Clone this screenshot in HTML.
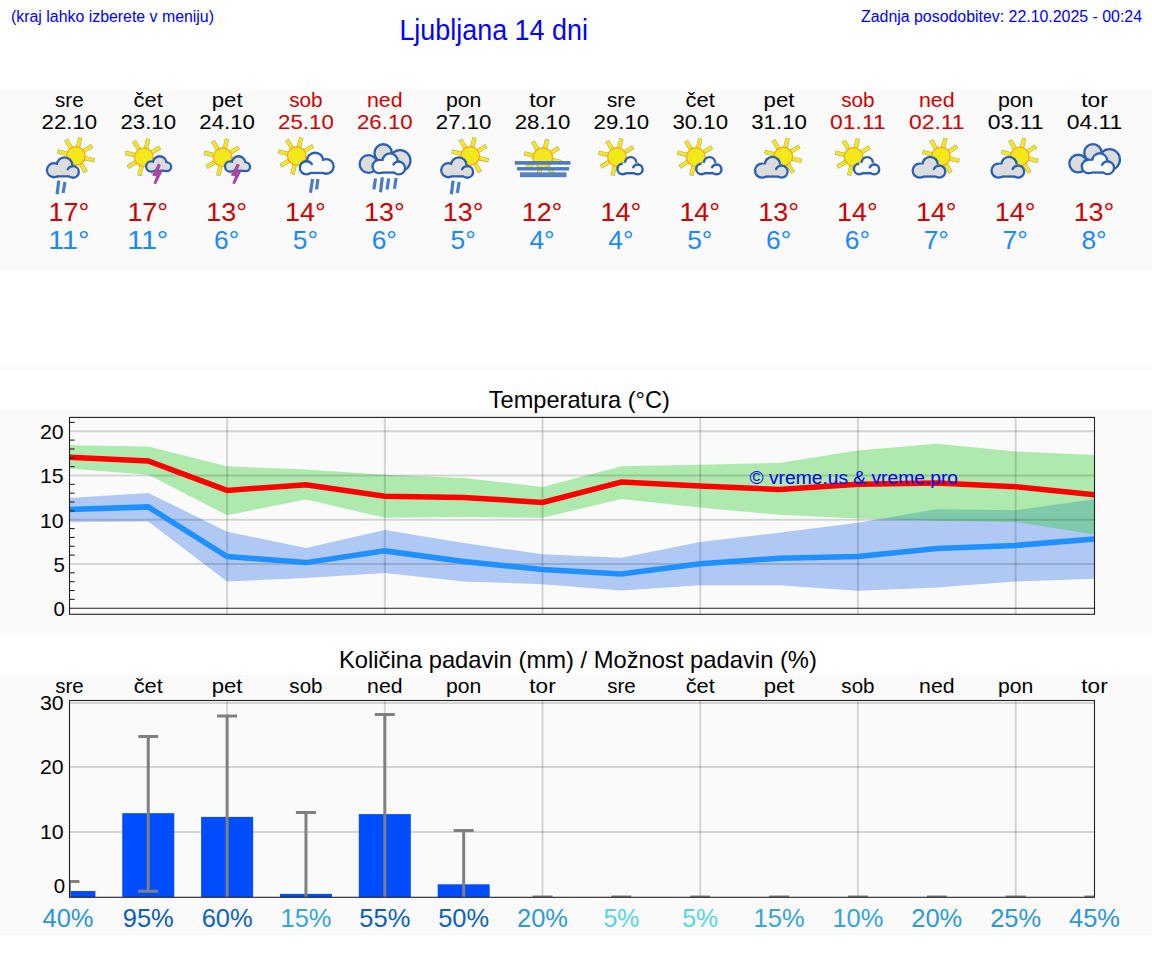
<!DOCTYPE html>
<html><head><meta charset="utf-8"><title>Ljubljana 14 dni</title>
<style>html,body{margin:0;padding:0;background:#fff;width:1152px;height:975px;overflow:hidden;position:relative}</style>
</head><body>
<svg width="1152" height="975" viewBox="0 0 1152 975" style="position:absolute;left:0;top:0;font-family:'Liberation Sans', sans-serif"><text x="11" y="22" font-size="16" fill="#0000ff" textLength="203" lengthAdjust="spacingAndGlyphs">(kraj lahko izberete v meniju)</text><text x="399.4" y="39.7" font-size="28.6" fill="#0000ff" textLength="188.5" lengthAdjust="spacingAndGlyphs">Ljubljana 14 dni</text><text x="1142" y="22.3" font-size="16" fill="#0000ff" text-anchor="end" textLength="281" lengthAdjust="spacingAndGlyphs">Zadnja posodobitev: 22.10.2025 - 00:24</text><rect x="0" y="90" width="1152" height="180" fill="#fafafa"/><text x="69.40" y="106.90" font-size="19.79" fill="#000000" text-anchor="middle" textLength="28.65" lengthAdjust="spacingAndGlyphs">sre</text><text x="69.40" y="128.90" font-size="19.79" fill="#000000" text-anchor="middle" textLength="55.65" lengthAdjust="spacingAndGlyphs">22.10</text><g transform="translate(69.40,0)"><line x1="14.28" y1="157.77" x2="24.98" y2="160.34" stroke="#a9a58a" stroke-width="4.40"/><line x1="10.68" y1="162.72" x2="16.43" y2="172.10" stroke="#a9a58a" stroke-width="4.40"/><line x1="4.63" y1="163.68" x2="2.06" y2="174.38" stroke="#a9a58a" stroke-width="4.40"/><line x1="-0.32" y1="160.08" x2="-9.70" y2="165.83" stroke="#a9a58a" stroke-width="4.40"/><line x1="-1.28" y1="154.03" x2="-11.98" y2="151.46" stroke="#a9a58a" stroke-width="4.40"/><line x1="2.32" y1="149.08" x2="-3.43" y2="139.70" stroke="#a9a58a" stroke-width="4.40"/><line x1="8.37" y1="148.12" x2="10.94" y2="137.42" stroke="#a9a58a" stroke-width="4.40"/><line x1="13.32" y1="151.72" x2="22.70" y2="145.97" stroke="#a9a58a" stroke-width="4.40"/><line x1="14.28" y1="157.77" x2="24.49" y2="160.22" stroke="#f2e81a" stroke-width="3.40"/><line x1="10.68" y1="162.72" x2="16.17" y2="171.67" stroke="#f2e81a" stroke-width="3.40"/><line x1="4.63" y1="163.68" x2="2.18" y2="173.89" stroke="#f2e81a" stroke-width="3.40"/><line x1="-0.32" y1="160.08" x2="-9.27" y2="165.57" stroke="#f2e81a" stroke-width="3.40"/><line x1="-1.28" y1="154.03" x2="-11.49" y2="151.58" stroke="#f2e81a" stroke-width="3.40"/><line x1="2.32" y1="149.08" x2="-3.17" y2="140.13" stroke="#f2e81a" stroke-width="3.40"/><line x1="8.37" y1="148.12" x2="10.82" y2="137.91" stroke="#f2e81a" stroke-width="3.40"/><line x1="13.32" y1="151.72" x2="22.27" y2="146.23" stroke="#f2e81a" stroke-width="3.40"/><circle cx="6.50" cy="155.90" r="9.30" fill="#f2e81a" stroke="#f6a21e" stroke-width="1.2"/><g fill="#2c5fb2"><circle cx="-15.40" cy="170.20" r="8.20"/><circle cx="-4.90" cy="165.00" r="8.80"/><circle cx="3.60" cy="171.90" r="7.00"/><rect x="-15.40" y="165.00" width="19.00" height="12.50"/></g><g fill="#dcdcdc"><circle cx="-15.40" cy="170.20" r="5.90"/><circle cx="-4.90" cy="165.00" r="6.50"/><circle cx="3.60" cy="171.90" r="4.70"/><rect x="-15.40" y="165.00" width="19.00" height="10.20"/></g><path d="M-1.66,169.34 A5.85,5.85 0 0 1 4.11,166.07" fill="none" stroke="#2c5fb2" stroke-width="2.30" stroke-linecap="round"/><line x1="-10.60" y1="180.60" x2="-12.30" y2="194.30" stroke="#4a7cc6" stroke-width="3.2"/><line x1="-4.50" y1="182.00" x2="-6.30" y2="193.00" stroke="#4a7cc6" stroke-width="3.2"/></g><text x="68.90" y="221.00" font-size="25.45" fill="#cc0000" text-anchor="middle" textLength="40.71" lengthAdjust="spacingAndGlyphs">17°</text><text x="68.90" y="248.90" font-size="25.45" fill="#1a88ff" text-anchor="middle" textLength="41.11" lengthAdjust="spacingAndGlyphs">11°</text><text x="148.25" y="106.90" font-size="19.79" fill="#000000" text-anchor="middle" textLength="29.27" lengthAdjust="spacingAndGlyphs">čet</text><text x="148.25" y="128.90" font-size="19.79" fill="#000000" text-anchor="middle" textLength="55.65" lengthAdjust="spacingAndGlyphs">23.10</text><g transform="translate(148.25,0)"><line x1="3.33" y1="159.07" x2="14.03" y2="161.64" stroke="#a9a58a" stroke-width="4.40"/><line x1="-0.27" y1="164.02" x2="5.48" y2="173.40" stroke="#a9a58a" stroke-width="4.40"/><line x1="-6.32" y1="164.98" x2="-8.89" y2="175.68" stroke="#a9a58a" stroke-width="4.40"/><line x1="-11.27" y1="161.38" x2="-20.65" y2="167.13" stroke="#a9a58a" stroke-width="4.40"/><line x1="-12.23" y1="155.33" x2="-22.93" y2="152.76" stroke="#a9a58a" stroke-width="4.40"/><line x1="-8.63" y1="150.38" x2="-14.38" y2="141.00" stroke="#a9a58a" stroke-width="4.40"/><line x1="-2.58" y1="149.42" x2="-0.01" y2="138.72" stroke="#a9a58a" stroke-width="4.40"/><line x1="2.37" y1="153.02" x2="11.75" y2="147.27" stroke="#a9a58a" stroke-width="4.40"/><line x1="3.33" y1="159.07" x2="13.54" y2="161.52" stroke="#f2e81a" stroke-width="3.40"/><line x1="-0.27" y1="164.02" x2="5.22" y2="172.97" stroke="#f2e81a" stroke-width="3.40"/><line x1="-6.32" y1="164.98" x2="-8.77" y2="175.19" stroke="#f2e81a" stroke-width="3.40"/><line x1="-11.27" y1="161.38" x2="-20.22" y2="166.87" stroke="#f2e81a" stroke-width="3.40"/><line x1="-12.23" y1="155.33" x2="-22.44" y2="152.88" stroke="#f2e81a" stroke-width="3.40"/><line x1="-8.63" y1="150.38" x2="-14.12" y2="141.43" stroke="#f2e81a" stroke-width="3.40"/><line x1="-2.58" y1="149.42" x2="-0.13" y2="139.21" stroke="#f2e81a" stroke-width="3.40"/><line x1="2.37" y1="153.02" x2="11.32" y2="147.53" stroke="#f2e81a" stroke-width="3.40"/><circle cx="-4.45" cy="157.20" r="9.30" fill="#f2e81a" stroke="#f6a21e" stroke-width="1.2"/><g fill="#2c5fb2"><circle cx="2.95" cy="166.50" r="6.20"/><circle cx="11.45" cy="163.00" r="7.90"/><circle cx="18.55" cy="166.80" r="5.50"/><rect x="2.95" y="163.00" width="15.60" height="8.90"/></g><g fill="#dcdcdc"><circle cx="2.95" cy="166.50" r="3.90"/><circle cx="11.45" cy="163.00" r="5.60"/><circle cx="18.55" cy="166.80" r="3.20"/><rect x="2.95" y="163.00" width="15.60" height="6.60"/></g><polygon points="9.75,163.4 12.65,164.9 10.35,170.4 14.45,170.8 7.85,184.0 5.15,183.4 7.95,176.2 3.85,175.5" fill="#a846a8"/></g><text x="147.75" y="221.00" font-size="25.45" fill="#cc0000" text-anchor="middle" textLength="40.71" lengthAdjust="spacingAndGlyphs">17°</text><text x="147.75" y="248.90" font-size="25.45" fill="#1a88ff" text-anchor="middle" textLength="41.11" lengthAdjust="spacingAndGlyphs">11°</text><text x="227.11" y="106.90" font-size="19.79" fill="#000000" text-anchor="middle" textLength="30.92" lengthAdjust="spacingAndGlyphs">pet</text><text x="227.11" y="128.90" font-size="19.79" fill="#000000" text-anchor="middle" textLength="55.65" lengthAdjust="spacingAndGlyphs">24.10</text><g transform="translate(227.11,0)"><line x1="3.33" y1="159.07" x2="14.03" y2="161.64" stroke="#a9a58a" stroke-width="4.40"/><line x1="-0.27" y1="164.02" x2="5.48" y2="173.40" stroke="#a9a58a" stroke-width="4.40"/><line x1="-6.32" y1="164.98" x2="-8.89" y2="175.68" stroke="#a9a58a" stroke-width="4.40"/><line x1="-11.27" y1="161.38" x2="-20.65" y2="167.13" stroke="#a9a58a" stroke-width="4.40"/><line x1="-12.23" y1="155.33" x2="-22.93" y2="152.76" stroke="#a9a58a" stroke-width="4.40"/><line x1="-8.63" y1="150.38" x2="-14.38" y2="141.00" stroke="#a9a58a" stroke-width="4.40"/><line x1="-2.58" y1="149.42" x2="-0.01" y2="138.72" stroke="#a9a58a" stroke-width="4.40"/><line x1="2.37" y1="153.02" x2="11.75" y2="147.27" stroke="#a9a58a" stroke-width="4.40"/><line x1="3.33" y1="159.07" x2="13.54" y2="161.52" stroke="#f2e81a" stroke-width="3.40"/><line x1="-0.27" y1="164.02" x2="5.22" y2="172.97" stroke="#f2e81a" stroke-width="3.40"/><line x1="-6.32" y1="164.98" x2="-8.77" y2="175.19" stroke="#f2e81a" stroke-width="3.40"/><line x1="-11.27" y1="161.38" x2="-20.22" y2="166.87" stroke="#f2e81a" stroke-width="3.40"/><line x1="-12.23" y1="155.33" x2="-22.44" y2="152.88" stroke="#f2e81a" stroke-width="3.40"/><line x1="-8.63" y1="150.38" x2="-14.12" y2="141.43" stroke="#f2e81a" stroke-width="3.40"/><line x1="-2.58" y1="149.42" x2="-0.13" y2="139.21" stroke="#f2e81a" stroke-width="3.40"/><line x1="2.37" y1="153.02" x2="11.32" y2="147.53" stroke="#f2e81a" stroke-width="3.40"/><circle cx="-4.45" cy="157.20" r="9.30" fill="#f2e81a" stroke="#f6a21e" stroke-width="1.2"/><g fill="#2c5fb2"><circle cx="2.95" cy="166.50" r="6.20"/><circle cx="11.45" cy="163.00" r="7.90"/><circle cx="18.55" cy="166.80" r="5.50"/><rect x="2.95" y="163.00" width="15.60" height="8.90"/></g><g fill="#dcdcdc"><circle cx="2.95" cy="166.50" r="3.90"/><circle cx="11.45" cy="163.00" r="5.60"/><circle cx="18.55" cy="166.80" r="3.20"/><rect x="2.95" y="163.00" width="15.60" height="6.60"/></g><polygon points="9.75,163.4 12.65,164.9 10.35,170.4 14.45,170.8 7.85,184.0 5.15,183.4 7.95,176.2 3.85,175.5" fill="#a846a8"/></g><text x="226.61" y="221.00" font-size="25.45" fill="#cc0000" text-anchor="middle" textLength="40.71" lengthAdjust="spacingAndGlyphs">13°</text><text x="226.61" y="248.90" font-size="25.45" fill="#1a88ff" text-anchor="middle" textLength="25.21" lengthAdjust="spacingAndGlyphs">6°</text><text x="305.96" y="106.90" font-size="19.79" fill="#cc0000" text-anchor="middle" textLength="33.36" lengthAdjust="spacingAndGlyphs">sob</text><text x="305.96" y="128.90" font-size="19.79" fill="#cc0000" text-anchor="middle" textLength="55.65" lengthAdjust="spacingAndGlyphs">25.10</text><g transform="translate(305.96,0)"><line x1="-1.37" y1="157.77" x2="9.33" y2="160.34" stroke="#a9a58a" stroke-width="4.40"/><line x1="-4.97" y1="162.72" x2="0.78" y2="172.10" stroke="#a9a58a" stroke-width="4.40"/><line x1="-11.02" y1="163.68" x2="-13.59" y2="174.38" stroke="#a9a58a" stroke-width="4.40"/><line x1="-15.97" y1="160.08" x2="-25.35" y2="165.83" stroke="#a9a58a" stroke-width="4.40"/><line x1="-16.93" y1="154.03" x2="-27.63" y2="151.46" stroke="#a9a58a" stroke-width="4.40"/><line x1="-13.33" y1="149.08" x2="-19.08" y2="139.70" stroke="#a9a58a" stroke-width="4.40"/><line x1="-7.28" y1="148.12" x2="-4.71" y2="137.42" stroke="#a9a58a" stroke-width="4.40"/><line x1="-2.33" y1="151.72" x2="7.05" y2="145.97" stroke="#a9a58a" stroke-width="4.40"/><line x1="-1.37" y1="157.77" x2="8.84" y2="160.22" stroke="#f2e81a" stroke-width="3.40"/><line x1="-4.97" y1="162.72" x2="0.52" y2="171.67" stroke="#f2e81a" stroke-width="3.40"/><line x1="-11.02" y1="163.68" x2="-13.47" y2="173.89" stroke="#f2e81a" stroke-width="3.40"/><line x1="-15.97" y1="160.08" x2="-24.92" y2="165.57" stroke="#f2e81a" stroke-width="3.40"/><line x1="-16.93" y1="154.03" x2="-27.14" y2="151.58" stroke="#f2e81a" stroke-width="3.40"/><line x1="-13.33" y1="149.08" x2="-18.82" y2="140.13" stroke="#f2e81a" stroke-width="3.40"/><line x1="-7.28" y1="148.12" x2="-4.83" y2="137.91" stroke="#f2e81a" stroke-width="3.40"/><line x1="-2.33" y1="151.72" x2="6.62" y2="146.23" stroke="#f2e81a" stroke-width="3.40"/><circle cx="-9.15" cy="155.90" r="9.30" fill="#f2e81a" stroke="#f6a21e" stroke-width="1.2"/><g fill="#2c5fb2"><circle cx="0.45" cy="167.80" r="7.70"/><circle cx="9.15" cy="161.00" r="9.40"/><circle cx="20.30" cy="166.40" r="8.50"/><rect x="0.45" y="161.00" width="19.85" height="13.10"/></g><g fill="#fafafa"><circle cx="0.45" cy="167.80" r="5.40"/><circle cx="9.15" cy="161.00" r="7.10"/><circle cx="20.30" cy="166.40" r="6.20"/><rect x="0.45" y="161.00" width="19.85" height="10.80"/></g><path d="M-0.12,161.27 A6.55,6.55 0 0 1 5.88,164.14" fill="none" stroke="#2c5fb2" stroke-width="2.30" stroke-linecap="round"/><line x1="6.60" y1="179.00" x2="4.50" y2="192.80" stroke="#4a7cc6" stroke-width="3.2"/><line x1="12.00" y1="179.00" x2="10.60" y2="189.40" stroke="#4a7cc6" stroke-width="3.2"/></g><text x="305.46" y="221.00" font-size="25.45" fill="#cc0000" text-anchor="middle" textLength="40.71" lengthAdjust="spacingAndGlyphs">14°</text><text x="305.46" y="248.90" font-size="25.45" fill="#1a88ff" text-anchor="middle" textLength="25.21" lengthAdjust="spacingAndGlyphs">5°</text><text x="384.82" y="106.90" font-size="19.79" fill="#cc0000" text-anchor="middle" textLength="35.62" lengthAdjust="spacingAndGlyphs">ned</text><text x="384.82" y="128.90" font-size="19.79" fill="#cc0000" text-anchor="middle" textLength="55.65" lengthAdjust="spacingAndGlyphs">26.10</text><g transform="translate(384.82,0)"><g fill="#2c5fb2"><circle cx="-16.30" cy="164.00" r="10.00"/><circle cx="-1.60" cy="153.00" r="9.90"/><circle cx="15.20" cy="160.60" r="11.60"/></g><g fill="#dcdcdc"><circle cx="-16.30" cy="164.00" r="7.70"/><circle cx="-1.60" cy="153.00" r="7.60"/><circle cx="15.20" cy="160.60" r="9.30"/></g><g fill="#2c5fb2"><circle cx="-5.60" cy="166.50" r="7.80"/><circle cx="5.20" cy="161.00" r="8.70"/><circle cx="13.90" cy="168.00" r="7.50"/><rect x="-5.60" y="161.00" width="19.50" height="12.70"/></g><g fill="#fafafa"><circle cx="-5.60" cy="166.50" r="5.50"/><circle cx="5.20" cy="161.00" r="6.40"/><circle cx="13.90" cy="168.00" r="5.20"/><rect x="-5.60" y="161.00" width="19.50" height="10.40"/></g><path d="M8.64,164.45 A6.35,6.35 0 0 1 14.45,161.67" fill="none" stroke="#2c5fb2" stroke-width="2.30" stroke-linecap="round"/><line x1="-9.30" y1="178.60" x2="-11.00" y2="189.40" stroke="#4a7cc6" stroke-width="3.2"/><line x1="-2.50" y1="177.40" x2="-4.30" y2="192.30" stroke="#4a7cc6" stroke-width="3.2"/><line x1="3.90" y1="178.60" x2="2.20" y2="189.40" stroke="#4a7cc6" stroke-width="3.2"/><line x1="11.30" y1="178.00" x2="9.60" y2="188.80" stroke="#4a7cc6" stroke-width="3.2"/></g><text x="384.32" y="221.00" font-size="25.45" fill="#cc0000" text-anchor="middle" textLength="40.71" lengthAdjust="spacingAndGlyphs">13°</text><text x="384.32" y="248.90" font-size="25.45" fill="#1a88ff" text-anchor="middle" textLength="25.21" lengthAdjust="spacingAndGlyphs">6°</text><text x="463.67" y="106.90" font-size="19.79" fill="#000000" text-anchor="middle" textLength="35.55" lengthAdjust="spacingAndGlyphs">pon</text><text x="463.67" y="128.90" font-size="19.79" fill="#000000" text-anchor="middle" textLength="55.65" lengthAdjust="spacingAndGlyphs">27.10</text><g transform="translate(463.67,0)"><line x1="14.28" y1="157.77" x2="24.98" y2="160.34" stroke="#a9a58a" stroke-width="4.40"/><line x1="10.68" y1="162.72" x2="16.43" y2="172.10" stroke="#a9a58a" stroke-width="4.40"/><line x1="4.63" y1="163.68" x2="2.06" y2="174.38" stroke="#a9a58a" stroke-width="4.40"/><line x1="-0.32" y1="160.08" x2="-9.70" y2="165.83" stroke="#a9a58a" stroke-width="4.40"/><line x1="-1.28" y1="154.03" x2="-11.98" y2="151.46" stroke="#a9a58a" stroke-width="4.40"/><line x1="2.32" y1="149.08" x2="-3.43" y2="139.70" stroke="#a9a58a" stroke-width="4.40"/><line x1="8.37" y1="148.12" x2="10.94" y2="137.42" stroke="#a9a58a" stroke-width="4.40"/><line x1="13.32" y1="151.72" x2="22.70" y2="145.97" stroke="#a9a58a" stroke-width="4.40"/><line x1="14.28" y1="157.77" x2="24.49" y2="160.22" stroke="#f2e81a" stroke-width="3.40"/><line x1="10.68" y1="162.72" x2="16.17" y2="171.67" stroke="#f2e81a" stroke-width="3.40"/><line x1="4.63" y1="163.68" x2="2.18" y2="173.89" stroke="#f2e81a" stroke-width="3.40"/><line x1="-0.32" y1="160.08" x2="-9.27" y2="165.57" stroke="#f2e81a" stroke-width="3.40"/><line x1="-1.28" y1="154.03" x2="-11.49" y2="151.58" stroke="#f2e81a" stroke-width="3.40"/><line x1="2.32" y1="149.08" x2="-3.17" y2="140.13" stroke="#f2e81a" stroke-width="3.40"/><line x1="8.37" y1="148.12" x2="10.82" y2="137.91" stroke="#f2e81a" stroke-width="3.40"/><line x1="13.32" y1="151.72" x2="22.27" y2="146.23" stroke="#f2e81a" stroke-width="3.40"/><circle cx="6.50" cy="155.90" r="9.30" fill="#f2e81a" stroke="#f6a21e" stroke-width="1.2"/><g fill="#2c5fb2"><circle cx="-15.40" cy="170.20" r="8.20"/><circle cx="-4.90" cy="165.00" r="8.80"/><circle cx="3.60" cy="171.90" r="7.00"/><rect x="-15.40" y="165.00" width="19.00" height="12.50"/></g><g fill="#dcdcdc"><circle cx="-15.40" cy="170.20" r="5.90"/><circle cx="-4.90" cy="165.00" r="6.50"/><circle cx="3.60" cy="171.90" r="4.70"/><rect x="-15.40" y="165.00" width="19.00" height="10.20"/></g><path d="M-1.66,169.34 A5.85,5.85 0 0 1 4.11,166.07" fill="none" stroke="#2c5fb2" stroke-width="2.30" stroke-linecap="round"/><line x1="-10.60" y1="180.60" x2="-12.30" y2="194.30" stroke="#4a7cc6" stroke-width="3.2"/><line x1="-4.50" y1="182.00" x2="-6.30" y2="193.00" stroke="#4a7cc6" stroke-width="3.2"/></g><text x="463.17" y="221.00" font-size="25.45" fill="#cc0000" text-anchor="middle" textLength="40.71" lengthAdjust="spacingAndGlyphs">13°</text><text x="463.17" y="248.90" font-size="25.45" fill="#1a88ff" text-anchor="middle" textLength="25.21" lengthAdjust="spacingAndGlyphs">5°</text><text x="542.52" y="106.90" font-size="19.79" fill="#000000" text-anchor="middle" textLength="26.50" lengthAdjust="spacingAndGlyphs">tor</text><text x="542.52" y="128.90" font-size="19.79" fill="#000000" text-anchor="middle" textLength="55.65" lengthAdjust="spacingAndGlyphs">28.10</text><g transform="translate(542.52,0)"><line x1="7.98" y1="159.67" x2="18.68" y2="162.24" stroke="#a9a58a" stroke-width="4.40"/><line x1="4.38" y1="164.62" x2="10.13" y2="174.00" stroke="#a9a58a" stroke-width="4.40"/><line x1="-1.67" y1="165.58" x2="-4.24" y2="176.28" stroke="#a9a58a" stroke-width="4.40"/><line x1="-6.62" y1="161.98" x2="-16.00" y2="167.73" stroke="#a9a58a" stroke-width="4.40"/><line x1="-7.58" y1="155.93" x2="-18.28" y2="153.36" stroke="#a9a58a" stroke-width="4.40"/><line x1="-3.98" y1="150.98" x2="-9.73" y2="141.60" stroke="#a9a58a" stroke-width="4.40"/><line x1="2.07" y1="150.02" x2="4.64" y2="139.32" stroke="#a9a58a" stroke-width="4.40"/><line x1="7.02" y1="153.62" x2="16.40" y2="147.87" stroke="#a9a58a" stroke-width="4.40"/><line x1="7.98" y1="159.67" x2="18.19" y2="162.12" stroke="#f2e81a" stroke-width="3.40"/><line x1="4.38" y1="164.62" x2="9.87" y2="173.57" stroke="#f2e81a" stroke-width="3.40"/><line x1="-1.67" y1="165.58" x2="-4.12" y2="175.79" stroke="#f2e81a" stroke-width="3.40"/><line x1="-6.62" y1="161.98" x2="-15.57" y2="167.47" stroke="#f2e81a" stroke-width="3.40"/><line x1="-7.58" y1="155.93" x2="-17.79" y2="153.48" stroke="#f2e81a" stroke-width="3.40"/><line x1="-3.98" y1="150.98" x2="-9.47" y2="142.03" stroke="#f2e81a" stroke-width="3.40"/><line x1="2.07" y1="150.02" x2="4.52" y2="139.81" stroke="#f2e81a" stroke-width="3.40"/><line x1="7.02" y1="153.62" x2="15.97" y2="148.13" stroke="#f2e81a" stroke-width="3.40"/><circle cx="0.20" cy="157.80" r="9.90" fill="#f2e81a" stroke="#f6a21e" stroke-width="1.2"/><rect x="-27.8" y="161.1" width="55.7" height="3.6" fill="#4a7bc4"/><rect x="-25.5" y="167.1" width="52.1" height="3.4" fill="#4a7bc4"/><rect x="-22.6" y="172.3" width="46.6" height="4.9" fill="#5682c2"/></g><text x="542.02" y="221.00" font-size="25.45" fill="#cc0000" text-anchor="middle" textLength="40.71" lengthAdjust="spacingAndGlyphs">12°</text><text x="542.02" y="248.90" font-size="25.45" fill="#1a88ff" text-anchor="middle" textLength="25.21" lengthAdjust="spacingAndGlyphs">4°</text><text x="621.38" y="106.90" font-size="19.79" fill="#000000" text-anchor="middle" textLength="28.65" lengthAdjust="spacingAndGlyphs">sre</text><text x="621.38" y="128.90" font-size="19.79" fill="#000000" text-anchor="middle" textLength="55.65" lengthAdjust="spacingAndGlyphs">29.10</text><g transform="translate(621.38,0)"><line x1="3.38" y1="158.87" x2="14.08" y2="161.44" stroke="#a9a58a" stroke-width="4.40"/><line x1="-0.22" y1="163.82" x2="5.53" y2="173.20" stroke="#a9a58a" stroke-width="4.40"/><line x1="-6.27" y1="164.78" x2="-8.84" y2="175.48" stroke="#a9a58a" stroke-width="4.40"/><line x1="-11.22" y1="161.18" x2="-20.60" y2="166.93" stroke="#a9a58a" stroke-width="4.40"/><line x1="-12.18" y1="155.13" x2="-22.88" y2="152.56" stroke="#a9a58a" stroke-width="4.40"/><line x1="-8.58" y1="150.18" x2="-14.33" y2="140.80" stroke="#a9a58a" stroke-width="4.40"/><line x1="-2.53" y1="149.22" x2="0.04" y2="138.52" stroke="#a9a58a" stroke-width="4.40"/><line x1="2.42" y1="152.82" x2="11.80" y2="147.07" stroke="#a9a58a" stroke-width="4.40"/><line x1="3.38" y1="158.87" x2="13.59" y2="161.32" stroke="#f2e81a" stroke-width="3.40"/><line x1="-0.22" y1="163.82" x2="5.27" y2="172.77" stroke="#f2e81a" stroke-width="3.40"/><line x1="-6.27" y1="164.78" x2="-8.72" y2="174.99" stroke="#f2e81a" stroke-width="3.40"/><line x1="-11.22" y1="161.18" x2="-20.17" y2="166.67" stroke="#f2e81a" stroke-width="3.40"/><line x1="-12.18" y1="155.13" x2="-22.39" y2="152.68" stroke="#f2e81a" stroke-width="3.40"/><line x1="-8.58" y1="150.18" x2="-14.07" y2="141.23" stroke="#f2e81a" stroke-width="3.40"/><line x1="-2.53" y1="149.22" x2="-0.08" y2="139.01" stroke="#f2e81a" stroke-width="3.40"/><line x1="2.42" y1="152.82" x2="11.37" y2="147.33" stroke="#f2e81a" stroke-width="3.40"/><circle cx="-4.40" cy="157.00" r="9.30" fill="#f2e81a" stroke="#f6a21e" stroke-width="1.2"/><g fill="#2c5fb2"><circle cx="1.30" cy="169.00" r="6.50"/><circle cx="9.30" cy="162.80" r="6.90"/><circle cx="16.30" cy="169.40" r="6.10"/><rect x="1.30" y="162.80" width="15.00" height="11.60"/></g><g fill="#fafafa"><circle cx="1.30" cy="169.00" r="4.10"/><circle cx="9.30" cy="162.80" r="4.50"/><circle cx="16.30" cy="169.40" r="3.70"/><rect x="1.30" y="162.80" width="15.00" height="9.20"/></g><path d="M11.86,167.33 A4.90,4.90 0 0 1 16.73,164.52" fill="none" stroke="#2c5fb2" stroke-width="2.40" stroke-linecap="round"/></g><text x="620.88" y="221.00" font-size="25.45" fill="#cc0000" text-anchor="middle" textLength="40.71" lengthAdjust="spacingAndGlyphs">14°</text><text x="620.88" y="248.90" font-size="25.45" fill="#1a88ff" text-anchor="middle" textLength="25.21" lengthAdjust="spacingAndGlyphs">4°</text><text x="700.23" y="106.90" font-size="19.79" fill="#000000" text-anchor="middle" textLength="29.27" lengthAdjust="spacingAndGlyphs">čet</text><text x="700.23" y="128.90" font-size="19.79" fill="#000000" text-anchor="middle" textLength="55.65" lengthAdjust="spacingAndGlyphs">30.10</text><g transform="translate(700.23,0)"><line x1="3.38" y1="158.87" x2="14.08" y2="161.44" stroke="#a9a58a" stroke-width="4.40"/><line x1="-0.22" y1="163.82" x2="5.53" y2="173.20" stroke="#a9a58a" stroke-width="4.40"/><line x1="-6.27" y1="164.78" x2="-8.84" y2="175.48" stroke="#a9a58a" stroke-width="4.40"/><line x1="-11.22" y1="161.18" x2="-20.60" y2="166.93" stroke="#a9a58a" stroke-width="4.40"/><line x1="-12.18" y1="155.13" x2="-22.88" y2="152.56" stroke="#a9a58a" stroke-width="4.40"/><line x1="-8.58" y1="150.18" x2="-14.33" y2="140.80" stroke="#a9a58a" stroke-width="4.40"/><line x1="-2.53" y1="149.22" x2="0.04" y2="138.52" stroke="#a9a58a" stroke-width="4.40"/><line x1="2.42" y1="152.82" x2="11.80" y2="147.07" stroke="#a9a58a" stroke-width="4.40"/><line x1="3.38" y1="158.87" x2="13.59" y2="161.32" stroke="#f2e81a" stroke-width="3.40"/><line x1="-0.22" y1="163.82" x2="5.27" y2="172.77" stroke="#f2e81a" stroke-width="3.40"/><line x1="-6.27" y1="164.78" x2="-8.72" y2="174.99" stroke="#f2e81a" stroke-width="3.40"/><line x1="-11.22" y1="161.18" x2="-20.17" y2="166.67" stroke="#f2e81a" stroke-width="3.40"/><line x1="-12.18" y1="155.13" x2="-22.39" y2="152.68" stroke="#f2e81a" stroke-width="3.40"/><line x1="-8.58" y1="150.18" x2="-14.07" y2="141.23" stroke="#f2e81a" stroke-width="3.40"/><line x1="-2.53" y1="149.22" x2="-0.08" y2="139.01" stroke="#f2e81a" stroke-width="3.40"/><line x1="2.42" y1="152.82" x2="11.37" y2="147.33" stroke="#f2e81a" stroke-width="3.40"/><circle cx="-4.40" cy="157.00" r="9.30" fill="#f2e81a" stroke="#f6a21e" stroke-width="1.2"/><g fill="#2c5fb2"><circle cx="1.30" cy="169.00" r="6.50"/><circle cx="9.30" cy="162.80" r="6.90"/><circle cx="16.30" cy="169.40" r="6.10"/><rect x="1.30" y="162.80" width="15.00" height="11.60"/></g><g fill="#fafafa"><circle cx="1.30" cy="169.00" r="4.10"/><circle cx="9.30" cy="162.80" r="4.50"/><circle cx="16.30" cy="169.40" r="3.70"/><rect x="1.30" y="162.80" width="15.00" height="9.20"/></g><path d="M11.86,167.33 A4.90,4.90 0 0 1 16.73,164.52" fill="none" stroke="#2c5fb2" stroke-width="2.40" stroke-linecap="round"/></g><text x="699.73" y="221.00" font-size="25.45" fill="#cc0000" text-anchor="middle" textLength="40.71" lengthAdjust="spacingAndGlyphs">14°</text><text x="699.73" y="248.90" font-size="25.45" fill="#1a88ff" text-anchor="middle" textLength="25.21" lengthAdjust="spacingAndGlyphs">5°</text><text x="779.08" y="106.90" font-size="19.79" fill="#000000" text-anchor="middle" textLength="30.92" lengthAdjust="spacingAndGlyphs">pet</text><text x="779.08" y="128.90" font-size="19.79" fill="#000000" text-anchor="middle" textLength="55.65" lengthAdjust="spacingAndGlyphs">31.10</text><g transform="translate(779.08,0)"><line x1="11.93" y1="158.27" x2="22.63" y2="160.84" stroke="#a9a58a" stroke-width="4.40"/><line x1="8.33" y1="163.22" x2="14.08" y2="172.60" stroke="#a9a58a" stroke-width="4.40"/><line x1="2.28" y1="164.18" x2="-0.29" y2="174.88" stroke="#a9a58a" stroke-width="4.40"/><line x1="-2.67" y1="160.58" x2="-12.05" y2="166.33" stroke="#a9a58a" stroke-width="4.40"/><line x1="-3.63" y1="154.53" x2="-14.33" y2="151.96" stroke="#a9a58a" stroke-width="4.40"/><line x1="-0.03" y1="149.58" x2="-5.78" y2="140.20" stroke="#a9a58a" stroke-width="4.40"/><line x1="6.02" y1="148.62" x2="8.59" y2="137.92" stroke="#a9a58a" stroke-width="4.40"/><line x1="10.97" y1="152.22" x2="20.35" y2="146.47" stroke="#a9a58a" stroke-width="4.40"/><line x1="11.93" y1="158.27" x2="22.14" y2="160.72" stroke="#f2e81a" stroke-width="3.40"/><line x1="8.33" y1="163.22" x2="13.82" y2="172.17" stroke="#f2e81a" stroke-width="3.40"/><line x1="2.28" y1="164.18" x2="-0.17" y2="174.39" stroke="#f2e81a" stroke-width="3.40"/><line x1="-2.67" y1="160.58" x2="-11.62" y2="166.07" stroke="#f2e81a" stroke-width="3.40"/><line x1="-3.63" y1="154.53" x2="-13.84" y2="152.08" stroke="#f2e81a" stroke-width="3.40"/><line x1="-0.03" y1="149.58" x2="-5.52" y2="140.63" stroke="#f2e81a" stroke-width="3.40"/><line x1="6.02" y1="148.62" x2="8.47" y2="138.41" stroke="#f2e81a" stroke-width="3.40"/><line x1="10.97" y1="152.22" x2="19.92" y2="146.73" stroke="#f2e81a" stroke-width="3.40"/><circle cx="4.15" cy="156.40" r="9.30" fill="#f2e81a" stroke="#f6a21e" stroke-width="1.2"/><g fill="#2c5fb2"><circle cx="-17.05" cy="170.60" r="8.20"/><circle cx="-6.65" cy="164.50" r="8.80"/><circle cx="2.45" cy="171.60" r="7.20"/><rect x="-17.05" y="164.50" width="19.50" height="13.20"/></g><g fill="#dcdcdc"><circle cx="-17.05" cy="170.60" r="5.90"/><circle cx="-6.65" cy="164.50" r="6.50"/><circle cx="2.45" cy="171.60" r="4.90"/><rect x="-17.05" y="164.50" width="19.50" height="10.90"/></g><path d="M-2.99,168.95 A6.05,6.05 0 0 1 2.98,165.57" fill="none" stroke="#2c5fb2" stroke-width="2.30" stroke-linecap="round"/></g><text x="778.58" y="221.00" font-size="25.45" fill="#cc0000" text-anchor="middle" textLength="40.71" lengthAdjust="spacingAndGlyphs">13°</text><text x="778.58" y="248.90" font-size="25.45" fill="#1a88ff" text-anchor="middle" textLength="25.21" lengthAdjust="spacingAndGlyphs">6°</text><text x="857.94" y="106.90" font-size="19.79" fill="#cc0000" text-anchor="middle" textLength="33.36" lengthAdjust="spacingAndGlyphs">sob</text><text x="857.94" y="128.90" font-size="19.79" fill="#cc0000" text-anchor="middle" textLength="55.65" lengthAdjust="spacingAndGlyphs">01.11</text><g transform="translate(857.94,0)"><line x1="3.38" y1="158.87" x2="14.08" y2="161.44" stroke="#a9a58a" stroke-width="4.40"/><line x1="-0.22" y1="163.82" x2="5.53" y2="173.20" stroke="#a9a58a" stroke-width="4.40"/><line x1="-6.27" y1="164.78" x2="-8.84" y2="175.48" stroke="#a9a58a" stroke-width="4.40"/><line x1="-11.22" y1="161.18" x2="-20.60" y2="166.93" stroke="#a9a58a" stroke-width="4.40"/><line x1="-12.18" y1="155.13" x2="-22.88" y2="152.56" stroke="#a9a58a" stroke-width="4.40"/><line x1="-8.58" y1="150.18" x2="-14.33" y2="140.80" stroke="#a9a58a" stroke-width="4.40"/><line x1="-2.53" y1="149.22" x2="0.04" y2="138.52" stroke="#a9a58a" stroke-width="4.40"/><line x1="2.42" y1="152.82" x2="11.80" y2="147.07" stroke="#a9a58a" stroke-width="4.40"/><line x1="3.38" y1="158.87" x2="13.59" y2="161.32" stroke="#f2e81a" stroke-width="3.40"/><line x1="-0.22" y1="163.82" x2="5.27" y2="172.77" stroke="#f2e81a" stroke-width="3.40"/><line x1="-6.27" y1="164.78" x2="-8.72" y2="174.99" stroke="#f2e81a" stroke-width="3.40"/><line x1="-11.22" y1="161.18" x2="-20.17" y2="166.67" stroke="#f2e81a" stroke-width="3.40"/><line x1="-12.18" y1="155.13" x2="-22.39" y2="152.68" stroke="#f2e81a" stroke-width="3.40"/><line x1="-8.58" y1="150.18" x2="-14.07" y2="141.23" stroke="#f2e81a" stroke-width="3.40"/><line x1="-2.53" y1="149.22" x2="-0.08" y2="139.01" stroke="#f2e81a" stroke-width="3.40"/><line x1="2.42" y1="152.82" x2="11.37" y2="147.33" stroke="#f2e81a" stroke-width="3.40"/><circle cx="-4.40" cy="157.00" r="9.30" fill="#f2e81a" stroke="#f6a21e" stroke-width="1.2"/><g fill="#2c5fb2"><circle cx="1.30" cy="169.00" r="6.50"/><circle cx="9.30" cy="162.80" r="6.90"/><circle cx="16.30" cy="169.40" r="6.10"/><rect x="1.30" y="162.80" width="15.00" height="11.60"/></g><g fill="#fafafa"><circle cx="1.30" cy="169.00" r="4.10"/><circle cx="9.30" cy="162.80" r="4.50"/><circle cx="16.30" cy="169.40" r="3.70"/><rect x="1.30" y="162.80" width="15.00" height="9.20"/></g><path d="M11.86,167.33 A4.90,4.90 0 0 1 16.73,164.52" fill="none" stroke="#2c5fb2" stroke-width="2.40" stroke-linecap="round"/></g><text x="857.44" y="221.00" font-size="25.45" fill="#cc0000" text-anchor="middle" textLength="40.71" lengthAdjust="spacingAndGlyphs">14°</text><text x="857.44" y="248.90" font-size="25.45" fill="#1a88ff" text-anchor="middle" textLength="25.21" lengthAdjust="spacingAndGlyphs">6°</text><text x="936.79" y="106.90" font-size="19.79" fill="#cc0000" text-anchor="middle" textLength="35.62" lengthAdjust="spacingAndGlyphs">ned</text><text x="936.79" y="128.90" font-size="19.79" fill="#cc0000" text-anchor="middle" textLength="55.65" lengthAdjust="spacingAndGlyphs">02.11</text><g transform="translate(936.79,0)"><line x1="11.93" y1="158.27" x2="22.63" y2="160.84" stroke="#a9a58a" stroke-width="4.40"/><line x1="8.33" y1="163.22" x2="14.08" y2="172.60" stroke="#a9a58a" stroke-width="4.40"/><line x1="2.28" y1="164.18" x2="-0.29" y2="174.88" stroke="#a9a58a" stroke-width="4.40"/><line x1="-2.67" y1="160.58" x2="-12.05" y2="166.33" stroke="#a9a58a" stroke-width="4.40"/><line x1="-3.63" y1="154.53" x2="-14.33" y2="151.96" stroke="#a9a58a" stroke-width="4.40"/><line x1="-0.03" y1="149.58" x2="-5.78" y2="140.20" stroke="#a9a58a" stroke-width="4.40"/><line x1="6.02" y1="148.62" x2="8.59" y2="137.92" stroke="#a9a58a" stroke-width="4.40"/><line x1="10.97" y1="152.22" x2="20.35" y2="146.47" stroke="#a9a58a" stroke-width="4.40"/><line x1="11.93" y1="158.27" x2="22.14" y2="160.72" stroke="#f2e81a" stroke-width="3.40"/><line x1="8.33" y1="163.22" x2="13.82" y2="172.17" stroke="#f2e81a" stroke-width="3.40"/><line x1="2.28" y1="164.18" x2="-0.17" y2="174.39" stroke="#f2e81a" stroke-width="3.40"/><line x1="-2.67" y1="160.58" x2="-11.62" y2="166.07" stroke="#f2e81a" stroke-width="3.40"/><line x1="-3.63" y1="154.53" x2="-13.84" y2="152.08" stroke="#f2e81a" stroke-width="3.40"/><line x1="-0.03" y1="149.58" x2="-5.52" y2="140.63" stroke="#f2e81a" stroke-width="3.40"/><line x1="6.02" y1="148.62" x2="8.47" y2="138.41" stroke="#f2e81a" stroke-width="3.40"/><line x1="10.97" y1="152.22" x2="19.92" y2="146.73" stroke="#f2e81a" stroke-width="3.40"/><circle cx="4.15" cy="156.40" r="9.30" fill="#f2e81a" stroke="#f6a21e" stroke-width="1.2"/><g fill="#2c5fb2"><circle cx="-17.05" cy="170.60" r="8.20"/><circle cx="-6.65" cy="164.50" r="8.80"/><circle cx="2.45" cy="171.60" r="7.20"/><rect x="-17.05" y="164.50" width="19.50" height="13.20"/></g><g fill="#dcdcdc"><circle cx="-17.05" cy="170.60" r="5.90"/><circle cx="-6.65" cy="164.50" r="6.50"/><circle cx="2.45" cy="171.60" r="4.90"/><rect x="-17.05" y="164.50" width="19.50" height="10.90"/></g><path d="M-2.99,168.95 A6.05,6.05 0 0 1 2.98,165.57" fill="none" stroke="#2c5fb2" stroke-width="2.30" stroke-linecap="round"/></g><text x="936.29" y="221.00" font-size="25.45" fill="#cc0000" text-anchor="middle" textLength="40.71" lengthAdjust="spacingAndGlyphs">14°</text><text x="936.29" y="248.90" font-size="25.45" fill="#1a88ff" text-anchor="middle" textLength="25.21" lengthAdjust="spacingAndGlyphs">7°</text><text x="1015.65" y="106.90" font-size="19.79" fill="#000000" text-anchor="middle" textLength="35.55" lengthAdjust="spacingAndGlyphs">pon</text><text x="1015.65" y="128.90" font-size="19.79" fill="#000000" text-anchor="middle" textLength="55.65" lengthAdjust="spacingAndGlyphs">03.11</text><g transform="translate(1015.65,0)"><line x1="11.93" y1="158.27" x2="22.63" y2="160.84" stroke="#a9a58a" stroke-width="4.40"/><line x1="8.33" y1="163.22" x2="14.08" y2="172.60" stroke="#a9a58a" stroke-width="4.40"/><line x1="2.28" y1="164.18" x2="-0.29" y2="174.88" stroke="#a9a58a" stroke-width="4.40"/><line x1="-2.67" y1="160.58" x2="-12.05" y2="166.33" stroke="#a9a58a" stroke-width="4.40"/><line x1="-3.63" y1="154.53" x2="-14.33" y2="151.96" stroke="#a9a58a" stroke-width="4.40"/><line x1="-0.03" y1="149.58" x2="-5.78" y2="140.20" stroke="#a9a58a" stroke-width="4.40"/><line x1="6.02" y1="148.62" x2="8.59" y2="137.92" stroke="#a9a58a" stroke-width="4.40"/><line x1="10.97" y1="152.22" x2="20.35" y2="146.47" stroke="#a9a58a" stroke-width="4.40"/><line x1="11.93" y1="158.27" x2="22.14" y2="160.72" stroke="#f2e81a" stroke-width="3.40"/><line x1="8.33" y1="163.22" x2="13.82" y2="172.17" stroke="#f2e81a" stroke-width="3.40"/><line x1="2.28" y1="164.18" x2="-0.17" y2="174.39" stroke="#f2e81a" stroke-width="3.40"/><line x1="-2.67" y1="160.58" x2="-11.62" y2="166.07" stroke="#f2e81a" stroke-width="3.40"/><line x1="-3.63" y1="154.53" x2="-13.84" y2="152.08" stroke="#f2e81a" stroke-width="3.40"/><line x1="-0.03" y1="149.58" x2="-5.52" y2="140.63" stroke="#f2e81a" stroke-width="3.40"/><line x1="6.02" y1="148.62" x2="8.47" y2="138.41" stroke="#f2e81a" stroke-width="3.40"/><line x1="10.97" y1="152.22" x2="19.92" y2="146.73" stroke="#f2e81a" stroke-width="3.40"/><circle cx="4.15" cy="156.40" r="9.30" fill="#f2e81a" stroke="#f6a21e" stroke-width="1.2"/><g fill="#2c5fb2"><circle cx="-17.05" cy="170.60" r="8.20"/><circle cx="-6.65" cy="164.50" r="8.80"/><circle cx="2.45" cy="171.60" r="7.20"/><rect x="-17.05" y="164.50" width="19.50" height="13.20"/></g><g fill="#dcdcdc"><circle cx="-17.05" cy="170.60" r="5.90"/><circle cx="-6.65" cy="164.50" r="6.50"/><circle cx="2.45" cy="171.60" r="4.90"/><rect x="-17.05" y="164.50" width="19.50" height="10.90"/></g><path d="M-2.99,168.95 A6.05,6.05 0 0 1 2.98,165.57" fill="none" stroke="#2c5fb2" stroke-width="2.30" stroke-linecap="round"/></g><text x="1015.15" y="221.00" font-size="25.45" fill="#cc0000" text-anchor="middle" textLength="40.71" lengthAdjust="spacingAndGlyphs">14°</text><text x="1015.15" y="248.90" font-size="25.45" fill="#1a88ff" text-anchor="middle" textLength="25.21" lengthAdjust="spacingAndGlyphs">7°</text><text x="1094.50" y="106.90" font-size="19.79" fill="#000000" text-anchor="middle" textLength="26.50" lengthAdjust="spacingAndGlyphs">tor</text><text x="1094.50" y="128.90" font-size="19.79" fill="#000000" text-anchor="middle" textLength="55.65" lengthAdjust="spacingAndGlyphs">04.11</text><g transform="translate(1094.50,0)"><g fill="#2c5fb2"><circle cx="-16.30" cy="163.60" r="10.00"/><circle cx="-1.60" cy="152.70" r="9.80"/><circle cx="15.00" cy="159.60" r="11.60"/></g><g fill="#dcdcdc"><circle cx="-16.30" cy="163.60" r="7.70"/><circle cx="-1.60" cy="152.70" r="7.50"/><circle cx="15.00" cy="159.60" r="9.30"/></g><g fill="#2c5fb2"><circle cx="-6.00" cy="166.50" r="7.90"/><circle cx="5.20" cy="160.80" r="8.70"/><circle cx="13.20" cy="167.80" r="7.50"/><rect x="-6.00" y="160.80" width="19.20" height="12.90"/></g><g fill="#fafafa"><circle cx="-6.00" cy="166.50" r="5.60"/><circle cx="5.20" cy="160.80" r="6.40"/><circle cx="13.20" cy="167.80" r="5.20"/><rect x="-6.00" y="160.80" width="19.20" height="10.60"/></g><path d="M7.59,164.82 A6.35,6.35 0 0 1 13.75,161.47" fill="none" stroke="#2c5fb2" stroke-width="2.30" stroke-linecap="round"/></g><text x="1094.00" y="221.00" font-size="25.45" fill="#cc0000" text-anchor="middle" textLength="40.71" lengthAdjust="spacingAndGlyphs">13°</text><text x="1094.00" y="248.90" font-size="25.45" fill="#1a88ff" text-anchor="middle" textLength="25.21" lengthAdjust="spacingAndGlyphs">8°</text><rect x="0" y="365" width="1152" height="5" fill="#fafafa"/><rect x="0" y="410" width="1152" height="225" fill="#fafafa"/><text x="579.3" y="407.8" font-size="23.6" fill="#000" text-anchor="middle" textLength="181" lengthAdjust="spacingAndGlyphs">Temperatura (°C)</text><polygon points="69.40,497.90 148.25,492.90 227.11,531.70 305.96,548.00 384.82,530.10 463.67,543.00 542.52,554.30 621.38,557.70 700.23,541.90 779.08,532.80 857.94,522.70 936.79,509.30 1015.65,510.30 1094.50,499.30 1094.50,578.70 1015.65,581.50 936.79,587.50 857.94,590.80 779.08,585.20 700.23,585.20 621.38,590.40 542.52,584.30 463.67,581.40 384.82,573.00 305.96,578.00 227.11,581.40 148.25,521.60 69.40,522.00" fill="#6495ed" fill-opacity="0.5"/><polygon points="69.40,445.30 148.25,446.60 227.11,466.30 305.96,469.60 384.82,474.80 463.67,478.00 542.52,487.00 621.38,466.30 700.23,464.70 779.08,462.90 857.94,450.50 936.79,443.80 1015.65,451.50 1094.50,455.10 1094.50,534.40 1015.65,522.00 936.79,520.70 857.94,518.60 779.08,514.80 700.23,507.60 621.38,499.00 542.52,517.70 463.67,517.00 384.82,517.70 305.96,499.40 227.11,515.20 148.25,474.80 69.40,468.50" fill="#32cd32" fill-opacity="0.38"/><line x1="69.4" y1="563.96" x2="1094.5" y2="563.96" stroke="#000" stroke-opacity="0.15" stroke-width="2"/><line x1="69.4" y1="519.72" x2="1094.5" y2="519.72" stroke="#000" stroke-opacity="0.15" stroke-width="2"/><line x1="69.4" y1="475.48" x2="1094.5" y2="475.48" stroke="#000" stroke-opacity="0.15" stroke-width="2"/><line x1="69.4" y1="431.24" x2="1094.5" y2="431.24" stroke="#000" stroke-opacity="0.15" stroke-width="2"/><line x1="227.11" y1="417.4" x2="227.11" y2="614.3" stroke="#000" stroke-opacity="0.15" stroke-width="2"/><line x1="384.82" y1="417.4" x2="384.82" y2="614.3" stroke="#000" stroke-opacity="0.15" stroke-width="2"/><line x1="542.52" y1="417.4" x2="542.52" y2="614.3" stroke="#000" stroke-opacity="0.15" stroke-width="2"/><line x1="700.23" y1="417.4" x2="700.23" y2="614.3" stroke="#000" stroke-opacity="0.15" stroke-width="2"/><line x1="857.94" y1="417.4" x2="857.94" y2="614.3" stroke="#000" stroke-opacity="0.15" stroke-width="2"/><line x1="1015.65" y1="417.4" x2="1015.65" y2="614.3" stroke="#000" stroke-opacity="0.15" stroke-width="2"/><polyline points="69.40,457.20 148.25,461.00 227.11,490.40 305.96,484.80 384.82,496.30 463.67,497.40 542.52,502.40 621.38,482.10 700.23,485.90 779.08,489.50 857.94,484.30 936.79,482.90 1015.65,486.80 1094.50,494.70" fill="none" stroke="#ff0000" stroke-width="5.5" stroke-linejoin="miter"/><polyline points="69.40,509.60 148.25,506.90 227.11,556.50 305.96,562.60 384.82,550.90 463.67,561.50 542.52,569.40 621.38,574.10 700.23,563.80 779.08,558.30 857.94,556.50 936.79,548.40 1015.65,545.40 1094.50,539.00" fill="none" stroke="#1e90ff" stroke-width="5.5" stroke-linejoin="miter"/><text x="749.5" y="483.8" font-size="17.6" fill="#0000ee" textLength="208.5" lengthAdjust="spacingAndGlyphs">© vreme.us &amp; vreme.pro</text><line x1="69.4" y1="608.2" x2="1094.5" y2="608.2" stroke="#222" stroke-width="1.1"/><line x1="69.4" y1="599.35" x2="74.60" y2="599.35" stroke="#222" stroke-width="1.1"/><line x1="69.4" y1="590.50" x2="74.60" y2="590.50" stroke="#222" stroke-width="1.1"/><line x1="69.4" y1="581.66" x2="74.60" y2="581.66" stroke="#222" stroke-width="1.1"/><line x1="69.4" y1="572.81" x2="74.60" y2="572.81" stroke="#222" stroke-width="1.1"/><line x1="69.4" y1="555.11" x2="74.60" y2="555.11" stroke="#222" stroke-width="1.1"/><line x1="69.4" y1="546.26" x2="74.60" y2="546.26" stroke="#222" stroke-width="1.1"/><line x1="69.4" y1="537.42" x2="74.60" y2="537.42" stroke="#222" stroke-width="1.1"/><line x1="69.4" y1="528.57" x2="74.60" y2="528.57" stroke="#222" stroke-width="1.1"/><line x1="69.4" y1="510.87" x2="74.60" y2="510.87" stroke="#222" stroke-width="1.1"/><line x1="69.4" y1="502.02" x2="74.60" y2="502.02" stroke="#222" stroke-width="1.1"/><line x1="69.4" y1="493.18" x2="74.60" y2="493.18" stroke="#222" stroke-width="1.1"/><line x1="69.4" y1="484.33" x2="74.60" y2="484.33" stroke="#222" stroke-width="1.1"/><line x1="69.4" y1="466.63" x2="74.60" y2="466.63" stroke="#222" stroke-width="1.1"/><line x1="69.4" y1="457.78" x2="74.60" y2="457.78" stroke="#222" stroke-width="1.1"/><line x1="69.4" y1="448.94" x2="74.60" y2="448.94" stroke="#222" stroke-width="1.1"/><line x1="69.4" y1="440.09" x2="74.60" y2="440.09" stroke="#222" stroke-width="1.1"/><line x1="69.4" y1="422.39" x2="74.60" y2="422.39" stroke="#222" stroke-width="1.1"/><rect x="69.5" y="417.4" width="1025" height="196.90" fill="none" stroke="#222" stroke-width="1.1"/><text x="64.80" y="616.10" font-size="19.79" fill="#000" text-anchor="end" textLength="11.37" lengthAdjust="spacingAndGlyphs">0</text><text x="64.80" y="571.86" font-size="19.79" fill="#000" text-anchor="end" textLength="11.37" lengthAdjust="spacingAndGlyphs">5</text><text x="63.70" y="527.62" font-size="19.79" fill="#000" text-anchor="end" textLength="23.73" lengthAdjust="spacingAndGlyphs">10</text><text x="63.70" y="483.38" font-size="19.79" fill="#000" text-anchor="end" textLength="23.73" lengthAdjust="spacingAndGlyphs">15</text><text x="63.70" y="439.14" font-size="19.79" fill="#000" text-anchor="end" textLength="23.73" lengthAdjust="spacingAndGlyphs">20</text><rect x="0" y="675" width="1152" height="260" fill="#fafafa"/><text x="577.9" y="668.2" font-size="23.6" fill="#000" text-anchor="middle" textLength="478" lengthAdjust="spacingAndGlyphs">Količina padavin (mm) / Možnost padavin (%)</text><line x1="69.4" y1="703.00" x2="1094.5" y2="703.00" stroke="#000" stroke-opacity="0.15" stroke-width="1.8"/><line x1="69.4" y1="767.00" x2="1094.5" y2="767.00" stroke="#000" stroke-opacity="0.15" stroke-width="1.8"/><line x1="69.4" y1="832.00" x2="1094.5" y2="832.00" stroke="#000" stroke-opacity="0.15" stroke-width="1.8"/><line x1="227.11" y1="700.5" x2="227.11" y2="897.3" stroke="#000" stroke-opacity="0.15" stroke-width="2"/><line x1="384.82" y1="700.5" x2="384.82" y2="897.3" stroke="#000" stroke-opacity="0.15" stroke-width="2"/><line x1="542.52" y1="700.5" x2="542.52" y2="897.3" stroke="#000" stroke-opacity="0.15" stroke-width="2"/><line x1="700.23" y1="700.5" x2="700.23" y2="897.3" stroke="#000" stroke-opacity="0.15" stroke-width="2"/><line x1="857.94" y1="700.5" x2="857.94" y2="897.3" stroke="#000" stroke-opacity="0.15" stroke-width="2"/><line x1="1015.65" y1="700.5" x2="1015.65" y2="897.3" stroke="#000" stroke-opacity="0.15" stroke-width="2"/><clipPath id="pc"><rect x="69.4" y="700.5" width="1025.10" height="196.80"/></clipPath><g clip-path="url(#pc)"><rect x="43.40" y="891.00" width="52" height="6.30" fill="#004cff"/><rect x="122.25" y="813.20" width="52" height="84.10" fill="#004cff"/><rect x="201.11" y="816.90" width="52" height="80.40" fill="#004cff"/><rect x="279.96" y="893.90" width="52" height="3.40" fill="#004cff"/><rect x="358.82" y="814.10" width="52" height="83.20" fill="#004cff"/><rect x="437.67" y="884.30" width="52" height="13.00" fill="#004cff"/><line x1="69.40" y1="881.50" x2="69.40" y2="897.00" stroke="#808080" stroke-width="3"/><line x1="59.40" y1="881.50" x2="79.40" y2="881.50" stroke="#808080" stroke-width="3"/><line x1="148.25" y1="736.40" x2="148.25" y2="891.20" stroke="#808080" stroke-width="3"/><line x1="138.25" y1="736.40" x2="158.25" y2="736.40" stroke="#808080" stroke-width="3"/><line x1="138.25" y1="891.20" x2="158.25" y2="891.20" stroke="#808080" stroke-width="3"/><line x1="227.11" y1="716.00" x2="227.11" y2="897.00" stroke="#808080" stroke-width="3"/><line x1="217.11" y1="716.00" x2="237.11" y2="716.00" stroke="#808080" stroke-width="3"/><line x1="305.96" y1="812.50" x2="305.96" y2="897.00" stroke="#808080" stroke-width="3"/><line x1="295.96" y1="812.50" x2="315.96" y2="812.50" stroke="#808080" stroke-width="3"/><line x1="384.82" y1="714.40" x2="384.82" y2="897.00" stroke="#808080" stroke-width="3"/><line x1="374.82" y1="714.40" x2="394.82" y2="714.40" stroke="#808080" stroke-width="3"/><line x1="463.67" y1="830.50" x2="463.67" y2="897.00" stroke="#808080" stroke-width="3"/><line x1="453.67" y1="830.50" x2="473.67" y2="830.50" stroke="#808080" stroke-width="3"/><line x1="542.52" y1="897.00" x2="542.52" y2="897.00" stroke="#808080" stroke-width="3"/><line x1="532.52" y1="897.00" x2="552.52" y2="897.00" stroke="#808080" stroke-width="3"/><line x1="621.38" y1="897.00" x2="621.38" y2="897.00" stroke="#808080" stroke-width="3"/><line x1="611.38" y1="897.00" x2="631.38" y2="897.00" stroke="#808080" stroke-width="3"/><line x1="700.23" y1="897.00" x2="700.23" y2="897.00" stroke="#808080" stroke-width="3"/><line x1="690.23" y1="897.00" x2="710.23" y2="897.00" stroke="#808080" stroke-width="3"/><line x1="779.08" y1="897.00" x2="779.08" y2="897.00" stroke="#808080" stroke-width="3"/><line x1="769.08" y1="897.00" x2="789.08" y2="897.00" stroke="#808080" stroke-width="3"/><line x1="857.94" y1="897.00" x2="857.94" y2="897.00" stroke="#808080" stroke-width="3"/><line x1="847.94" y1="897.00" x2="867.94" y2="897.00" stroke="#808080" stroke-width="3"/><line x1="936.79" y1="897.00" x2="936.79" y2="897.00" stroke="#808080" stroke-width="3"/><line x1="926.79" y1="897.00" x2="946.79" y2="897.00" stroke="#808080" stroke-width="3"/><line x1="1015.65" y1="897.00" x2="1015.65" y2="897.00" stroke="#808080" stroke-width="3"/><line x1="1005.65" y1="897.00" x2="1025.65" y2="897.00" stroke="#808080" stroke-width="3"/><line x1="1094.50" y1="897.00" x2="1094.50" y2="897.00" stroke="#808080" stroke-width="3"/><line x1="1084.50" y1="897.00" x2="1104.50" y2="897.00" stroke="#808080" stroke-width="3"/></g><rect x="69.5" y="700.5" width="1025" height="196.80" fill="none" stroke="#222" stroke-width="1.1"/><text x="63.70" y="710.20" font-size="19.79" fill="#000" text-anchor="end" textLength="23.73" lengthAdjust="spacingAndGlyphs">30</text><text x="63.70" y="774.20" font-size="19.79" fill="#000" text-anchor="end" textLength="23.73" lengthAdjust="spacingAndGlyphs">20</text><text x="63.70" y="839.20" font-size="19.79" fill="#000" text-anchor="end" textLength="23.73" lengthAdjust="spacingAndGlyphs">10</text><text x="65.20" y="893.20" font-size="19.79" fill="#000" text-anchor="end" textLength="11.37" lengthAdjust="spacingAndGlyphs">0</text><text x="69.40" y="692.60" font-size="19.79" fill="#000" text-anchor="middle" textLength="28.45" lengthAdjust="spacingAndGlyphs">sre</text><text x="148.25" y="692.60" font-size="19.79" fill="#000" text-anchor="middle" textLength="29.07" lengthAdjust="spacingAndGlyphs">čet</text><text x="227.11" y="692.60" font-size="19.79" fill="#000" text-anchor="middle" textLength="30.72" lengthAdjust="spacingAndGlyphs">pet</text><text x="305.96" y="692.60" font-size="19.79" fill="#000" text-anchor="middle" textLength="33.16" lengthAdjust="spacingAndGlyphs">sob</text><text x="384.82" y="692.60" font-size="19.79" fill="#000" text-anchor="middle" textLength="35.42" lengthAdjust="spacingAndGlyphs">ned</text><text x="463.67" y="692.60" font-size="19.79" fill="#000" text-anchor="middle" textLength="35.35" lengthAdjust="spacingAndGlyphs">pon</text><text x="542.52" y="692.60" font-size="19.79" fill="#000" text-anchor="middle" textLength="26.30" lengthAdjust="spacingAndGlyphs">tor</text><text x="621.38" y="692.60" font-size="19.79" fill="#000" text-anchor="middle" textLength="28.45" lengthAdjust="spacingAndGlyphs">sre</text><text x="700.23" y="692.60" font-size="19.79" fill="#000" text-anchor="middle" textLength="29.07" lengthAdjust="spacingAndGlyphs">čet</text><text x="779.08" y="692.60" font-size="19.79" fill="#000" text-anchor="middle" textLength="30.72" lengthAdjust="spacingAndGlyphs">pet</text><text x="857.94" y="692.60" font-size="19.79" fill="#000" text-anchor="middle" textLength="33.16" lengthAdjust="spacingAndGlyphs">sob</text><text x="936.79" y="692.60" font-size="19.79" fill="#000" text-anchor="middle" textLength="35.42" lengthAdjust="spacingAndGlyphs">ned</text><text x="1015.65" y="692.60" font-size="19.79" fill="#000" text-anchor="middle" textLength="35.35" lengthAdjust="spacingAndGlyphs">pon</text><text x="1094.50" y="692.60" font-size="19.79" fill="#000" text-anchor="middle" textLength="26.30" lengthAdjust="spacingAndGlyphs">tor</text><text x="68.00" y="926.80" font-size="25.45" fill="#2c96d4" text-anchor="middle" textLength="50.97" lengthAdjust="spacingAndGlyphs">40%</text><text x="148.25" y="926.80" font-size="25.45" fill="#0b5dbd" text-anchor="middle" textLength="50.97" lengthAdjust="spacingAndGlyphs">95%</text><text x="227.11" y="926.80" font-size="25.45" fill="#0e63c1" text-anchor="middle" textLength="50.97" lengthAdjust="spacingAndGlyphs">60%</text><text x="305.96" y="926.80" font-size="25.45" fill="#37a4d8" text-anchor="middle" textLength="50.97" lengthAdjust="spacingAndGlyphs">15%</text><text x="384.82" y="926.80" font-size="25.45" fill="#0b5fbf" text-anchor="middle" textLength="50.97" lengthAdjust="spacingAndGlyphs">55%</text><text x="463.67" y="926.80" font-size="25.45" fill="#0e62c0" text-anchor="middle" textLength="50.97" lengthAdjust="spacingAndGlyphs">50%</text><text x="542.52" y="926.80" font-size="25.45" fill="#2e9bd6" text-anchor="middle" textLength="50.97" lengthAdjust="spacingAndGlyphs">20%</text><text x="621.38" y="926.80" font-size="25.45" fill="#55d6e2" text-anchor="middle" textLength="35.86" lengthAdjust="spacingAndGlyphs">5%</text><text x="700.23" y="926.80" font-size="25.45" fill="#55d6e2" text-anchor="middle" textLength="35.86" lengthAdjust="spacingAndGlyphs">5%</text><text x="779.08" y="926.80" font-size="25.45" fill="#37a4d8" text-anchor="middle" textLength="50.97" lengthAdjust="spacingAndGlyphs">15%</text><text x="857.94" y="926.80" font-size="25.45" fill="#36a3d8" text-anchor="middle" textLength="50.97" lengthAdjust="spacingAndGlyphs">10%</text><text x="936.79" y="926.80" font-size="25.45" fill="#2e9bd6" text-anchor="middle" textLength="50.97" lengthAdjust="spacingAndGlyphs">20%</text><text x="1015.65" y="926.80" font-size="25.45" fill="#2d98d5" text-anchor="middle" textLength="50.97" lengthAdjust="spacingAndGlyphs">25%</text><text x="1094.50" y="926.80" font-size="25.45" fill="#2c95d4" text-anchor="middle" textLength="50.97" lengthAdjust="spacingAndGlyphs">45%</text></svg>
</body></html>
